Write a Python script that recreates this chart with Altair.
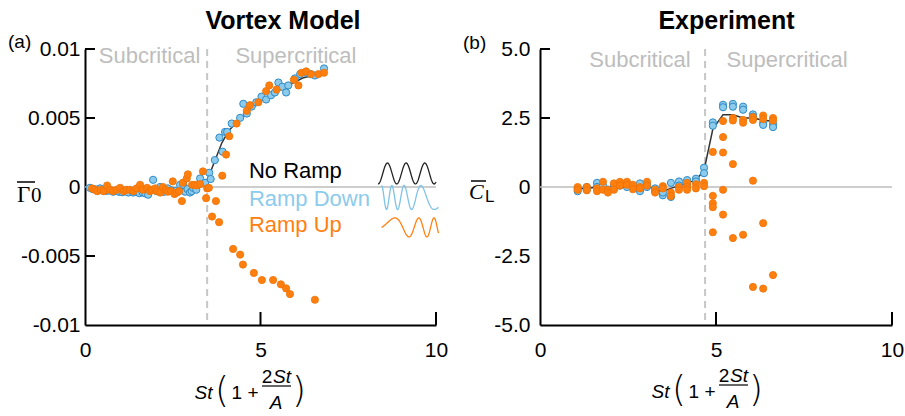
import numpy as np
import pandas as pd
import altair as alt

FONT = "Liberation Sans"
SERIF = "Liberation Serif"
ORANGE = "#ff7f0e"
ORANGE_EDGE = "#ec7207"
BLUE = "#8ccbeb"
BLUE_EDGE = "#2f8ac6"
GREY = "#bdbdbd"
DASH = "#c6c6c6"

W_A, W_B, H = 351, 352, 276

# ---------------- (a) Vortex Model ----------------
vm_noramp_x = [0.15, 0.5, 1.0, 1.5, 2.0, 2.5, 3.0, 3.3, 3.5, 3.7, 3.9, 4.1, 4.4, 4.7, 5.0, 5.3, 5.6, 5.9, 6.2, 6.5, 6.8]
vm_noramp_y = [-0.0002, -0.00025, -0.0003, -0.0003, -0.0003, -0.0002, -0.0001, 0.0001, 0.0006, 0.0019, 0.0032,
               0.0041, 0.0049, 0.0056, 0.0062, 0.0067, 0.0071, 0.0075, 0.0079, 0.0081, 0.0084]

vm_down_x = [0.14, 0.22, 0.30, 0.38, 0.43, 0.52, 0.60, 0.68, 0.80, 0.88, 0.97, 1.06, 1.15, 1.24, 1.37, 1.45,
             1.55, 1.64, 1.72, 1.80, 1.94, 2.04, 2.14, 2.25, 2.36, 2.46, 2.58, 2.71, 2.80, 2.85, 2.92, 2.99,
             3.04, 3.08, 3.17, 3.28, 3.42, 3.54, 3.58, 3.70, 3.83, 3.92, 3.99, 4.05, 4.18, 4.42, 4.51, 4.61,
             4.75, 4.88, 5.03, 5.16, 5.30, 5.41, 5.51, 5.62, 5.73, 5.79, 5.98, 6.13, 6.30, 6.42, 6.55, 6.81]
vm_down_y = [-0.00006, -0.00015, -0.00017, -0.00023, -0.0001, -0.00025, -0.00028, -0.00026, -0.00034, -0.0003,
             -0.00035, -0.00038, -0.00032, -0.0004, -0.0004, -0.00036, -0.00045, -0.00038, -0.00047, -0.00056,
             0.00052, -0.0003, 0.0, -0.00035, -0.0001, -0.00025, -0.0003, 0.00016, 0.00016, -0.00034, -0.00015,
             -0.0004, -0.0003, -0.00006, -0.0002, 0.00062, 0.0003, 0.00103, 0.00058, 0.00195, 0.00358, 0.00256,
             0.00399, 0.00399, 0.0046, 0.00501, 0.00603, 0.00532, 0.00583, 0.00614, 0.00655, 0.00634, 0.00665,
             0.00685, 0.00757, 0.00726, 0.00685, 0.00736, 0.00787, 0.00818, 0.00828, 0.00818, 0.00808, 0.00859]

vm_up_low_x = [0.20, 0.28, 0.35, 0.45, 0.53, 0.63, 0.72, 0.80, 0.90, 1.00, 1.10, 1.18, 1.28, 1.38, 1.47, 1.57,
               1.65, 1.77, 1.85, 1.91, 2.00, 2.05, 2.14, 2.22, 2.30, 2.36, 2.45, 2.50, 2.55, 2.62, 2.68, 2.76,
               2.79, 2.90, 2.93, 3.05, 3.13, 3.19, 3.28, 3.36, 3.45, 3.48, 3.53]
vm_up_low_y = [-0.0001, -0.0002, -0.0003, -0.0002, -0.0003, 0.00011, -0.0002, -0.0003, -0.0002, -0.00006,
               -0.0003, -0.0002, -0.0002, -0.0003, -0.0001, 0.00016, -0.0002, -0.00006, -0.0003, -0.0002,
               -0.0001, -0.0003, -0.0004, 0.0, -0.0002, -0.00034, -0.0003, 0.00041, -0.00051, -0.0004,
               -0.0003, -0.00102, 0.00031, 0.00062, 0.00092, 0.00016, 0.00016, 0.00011, 0.00021, 0.00113,
               -0.00081, -0.0001, -0.00006]
vm_up_pos_x = [3.91, 4.02, 4.11, 4.32, 4.61, 4.70, 4.94, 5.16, 5.25, 5.46, 5.95, 6.08, 6.17, 6.30, 6.44, 6.65, 6.81]
vm_up_pos_y = [0.00082, 0.00235, 0.00368, 0.0046, 0.00552, 0.00593, 0.00614, 0.00695, 0.00736, 0.00706,
               0.00777, 0.00736, 0.00828, 0.00838, 0.00818, 0.00818, 0.00828]
vm_up_neg_x = [3.73, 3.62, 3.82, 4.22, 4.42, 4.50, 4.81, 5.04, 5.36, 5.58, 5.73, 5.84, 6.55]
vm_up_neg_y = [-0.00102, -0.00214, -0.00255, -0.00449, -0.0049, -0.00562, -0.00623, -0.00674, -0.00674,
               -0.00705, -0.00735, -0.00776, -0.00817]

vm_critical = 3.48

# ---------------- (b) Experiment ----------------
ex_x = [1.07, 1.33, 1.62, 1.79, 1.93, 2.10, 2.27, 2.47, 2.64, 2.84, 3.04, 3.27, 3.49, 3.72, 3.95, 4.18, 4.43,
        4.66, 4.91, 5.20, 5.48, 5.77, 6.05, 6.34, 6.62]
ex_noramp_y = [-0.05, -0.05, 0.0, 0.0, -0.05, 0.0, 0.05, 0.05, 0.0, 0.0, 0.05, -0.1, -0.15, -0.05, 0.05, 0.15,
               0.25, 0.6, 2.1, 2.62, 2.62, 2.5, 2.5, 2.42, 2.38]
ex_down_y = [[-0.15, -0.05], [-0.1, 0.0], [0.15, 0.0], [-0.05, 0.05], [-0.1], [0.05, -0.05], [0.1, 0.05],
             [0.1, 0.0], [0.05, 0.0], [0.13, -0.15], [0.1, 0.0], [-0.15, -0.05], [-0.3, -0.2], [0.15, -0.36],
             [0.2, 0.05], [0.25, 0.1], [0.3, 0.2], [0.7, 0.5], [2.34, 2.22], [2.98, 2.89], [3.01, 2.91],
             [2.91, 2.8], [2.63, 2.55], [2.33, 2.25], [2.29, 2.17]]
ex_up_y = [[0.0, -0.1], [0.0, -0.12], [-0.05, -0.15], [0.19, -0.1], [-0.1, -0.2], [0.13, -0.1], [0.19, 0.05],
           [0.19, 0.08], [0.08, -0.08], [0.0, -0.05], [0.19, 0.05], [-0.1, -0.2], [0.03, -0.05], [-0.2, -0.33],
           [0.0, -0.1], [0.15, 0.0, -0.1], [0.1, -0.05], [0.15, 0.03], [1.27, -0.32, -0.59, -0.73, -1.64],
           [2.39, 1.81, 1.25, -0.1, -1.0], [2.5, 2.41, 0.83, -1.85], [2.43, 2.33, -1.73],
           [2.53, 2.43, 0.23, -3.62], [2.59, 2.46, -1.31, -3.68], [2.5, 2.41, -3.19]]
ex_critical = 4.69

DUMMY = pd.DataFrame({"d": [0]})


def flat(xs, groups):
    rx, ry = [], []
    for x, g in zip(xs, groups):
        for v in g:
            rx.append(x)
            ry.append(v)
    return pd.DataFrame({"x": rx, "y": ry})


def ptext(s, x, y, size, color="black", align="center", baseline="middle", font=FONT, **kw):
    return alt.Chart(DUMMY).mark_text(text=s, fontSize=size, color=color, align=align, baseline=baseline,
                                      font=font, **kw).encode(x=alt.value(x), y=alt.value(y))


def prule(x, x2, y, y2, color="black", width=1.5, **kw):
    return alt.Chart(DUMMY).mark_rule(color=color, strokeWidth=width, **kw).encode(
        x=alt.value(x), x2=alt.value(x2), y=alt.value(y), y2=alt.value(y2))


def xtitle(dx, dy):
    return [
        ptext("St", 118.5 + dx, 344 + dy, 19, fontStyle="italic"),
        ptext("(", 137 + dx, 342 + dy, 36, font="DejaVu Sans", fontWeight=200),
        ptext("1 +", 160 + dx, 344 + dy, 19),
        ptext("2", 182 + dx, 328 + dy, 19),
        ptext("St", 197 + dx, 328 + dy, 19, fontStyle="italic"),
        prule(177 + dx, 206 + dx, 337 + dy, 337 + dy, width=1.2),
        ptext("A", 191 + dx, 354 + dy, 19, fontStyle="italic"),
        ptext(")", 214 + dx, 342 + dy, 36, font="DejaVu Sans", fontWeight=200),
    ]


XAX = alt.Axis(values=[0, 5, 10], labelExpr="'' + datum.value", ticks=False, grid=False,
               domainColor="black", domainWidth=2, labelFont=FONT, labelFontSize=21,
               labelColor="black", labelPadding=14, labelFlush=False, title=None)


def panel(xscale, yscale, yaxis, down_df, up_dfs, line_df, crit, sub_pos, sup_pos, yticks):
    X = lambda f: alt.X(f, scale=xscale, axis=XAX)
    Y = lambda f: alt.Y(f, scale=yscale, axis=yaxis)
    zero = alt.Chart(pd.DataFrame({"y": [0]})).mark_rule(color=GREY, strokeWidth=1.5).encode(y=Y("y:Q"))
    crit_l = alt.Chart(pd.DataFrame({"x": [crit]})).mark_rule(
        color=DASH, strokeWidth=2, strokeDash=[7, 5]).encode(x=X("x:Q"))
    line = alt.Chart(line_df).mark_line(color="#333333", strokeWidth=1.5).encode(x=X("x:Q"), y=Y("y:Q"))
    blue = alt.Chart(down_df).mark_point(shape="circle", filled=True, fill=BLUE, stroke=BLUE_EDGE,
                                         strokeWidth=1, size=52, opacity=1).encode(x=X("x:Q"), y=Y("y:Q"))
    oranges = [alt.Chart(d).mark_point(shape="circle", filled=True, fill=ORANGE, stroke=ORANGE_EDGE,
                                       strokeWidth=0.8, size=52, opacity=1).encode(x=X("x:Q"), y=Y("y:Q"))
               for d in up_dfs]
    regions = alt.Chart(pd.DataFrame({"x": [sub_pos[0], sup_pos[0]], "y": [sub_pos[1], sup_pos[1]],
                                      "t": ["Subcritical", "Supercritical"]})).mark_text(
        font=FONT, fontSize=22, color=GREY, align="center", baseline="middle").encode(
        x=X("x:Q"), y=Y("y:Q"), text="t:N")
    yt = alt.Chart(pd.DataFrame({"y": yticks})).mark_rule(color="black", strokeWidth=2).encode(
        y=Y("y:Q"), x=alt.value(0), x2=alt.value(10))
    xt = alt.Chart(pd.DataFrame({"x": [5, 10]})).mark_rule(color="black", strokeWidth=2).encode(
        x=X("x:Q"), y=alt.value(H), y2=alt.value(H - 13))
    return [zero, crit_l, line, blue] + oranges + [regions, yt, xt], X, Y


# ---------- panel A ----------
xsA = alt.Scale(domain=[0, 10], nice=False, zero=False)
ysA = alt.Scale(domain=[-0.01, 0.01], nice=False, zero=False)
yaxA = alt.Axis(values=[-0.01, -0.005, 0, 0.005, 0.01], labelExpr="'' + datum.value", ticks=False,
                grid=False, domainColor="black", domainWidth=2, labelFont=FONT, labelFontSize=21,
                labelColor="black", labelPadding=5, labelFlush=False, labelOverlap=False, title=None)

layersA, XA, YA = panel(xsA, ysA, yaxA,
                        pd.DataFrame({"x": vm_down_x, "y": vm_down_y}),
                        [pd.DataFrame({"x": vm_up_low_x, "y": vm_up_low_y}),
                         pd.DataFrame({"x": vm_up_pos_x, "y": vm_up_pos_y}),
                         pd.DataFrame({"x": vm_up_neg_x, "y": vm_up_neg_y})],
                        pd.DataFrame({"x": vm_noramp_x, "y": vm_noramp_y}),
                        vm_critical, (1.84, 0.0095), (6.01, 0.0095), [0.01, 0.005, -0.005])

# legend (labels + wave glyphs)
leg = pd.DataFrame({"x": [4.67, 4.67, 4.67], "y": [0.00116, -0.00087, -0.00275],
                    "t": ["No Ramp", "Ramp Down", "Ramp Up"], "c": ["black", "#8ccbeb", "#ff8010"]})
leg_text = alt.Chart(leg).mark_text(font=FONT, fontSize=22, align="left", baseline="middle").encode(
    x=XA("x:Q"), y=YA("y:Q"), text="t:N", color=alt.Color("c:N", scale=None))

t = np.linspace(0, 1, 160)
glyph_black = pd.DataFrame({"x": 8.35 + 1.65 * t, "y": 0.00098 - 0.00076 * np.cos(2 * np.pi * 3.1 * t)})
glyph_blue = pd.DataFrame({"x": 8.45 + 1.62 * t, "y": -0.00076 + 0.00087 * np.cos(2 * np.pi * (6 * t - 2.4 * t ** 2))})
glyph_orange = pd.DataFrame({"x": 8.45 + 1.62 * t, "y": -0.00293 + 0.00069 * np.sin(2 * np.pi * (0.6 * t + 2.0 * t ** 2))})
glyphs = [alt.Chart(d).mark_line(color=c, strokeWidth=1.3, clip=False).encode(x=XA("x:Q"), y=YA("y:Q"))
          for d, c in [(glyph_black, "#222222"), (glyph_blue, "#7fc3e8"), (glyph_orange, "#ff8010")]]

decoA = [
    ptext("Vortex Model", 198, -20, 25, fontWeight="bold", baseline="alphabetic"),
    ptext("(a)", -77, -7, 19, align="left"),
    ptext("\u0393", -68, 153, 23, font=SERIF, align="left", baseline="alphabetic"),
    ptext("0", -54, 153, 21, font=SERIF, align="left", baseline="alphabetic"),
    prule(-68, -50, 133, 133, width=1.5),
    # invisible anchor fixing the plot origin at (85, 49)
    alt.Chart(DUMMY).mark_rule(stroke="white", strokeOpacity=0, strokeWidth=0.5).encode(
        x=alt.value(-85), x2=alt.value(-85), y=alt.value(-49), y2=alt.value(-48)),
] + xtitle(0, 0)

left = alt.layer(*(layersA + [leg_text] + glyphs + decoA)).properties(width=W_A, height=H)

# ---------- panel B ----------
xsB = alt.Scale(domain=[0, 10], nice=False, zero=False)
ysB = alt.Scale(domain=[-5, 5], nice=False, zero=False)
yaxB = alt.Axis(values=[-5, -2.5, 0, 2.5, 5],
                labelExpr="datum.value == 0 ? '0' : (datum.value < 0 ? '-' : '') + format(abs(datum.value), '.1f')",
                ticks=False, grid=False, domainColor="black", domainWidth=2, labelFont=FONT, labelFontSize=21,
                labelColor="black", labelPadding=10, labelFlush=False, labelOverlap=False, title=None)

layersB, XB, YB = panel(xsB, ysB, yaxB,
                        flat(ex_x, ex_down_y),
                        [flat(ex_x, ex_up_y)],
                        pd.DataFrame({"x": ex_x, "y": ex_noramp_y}),
                        ex_critical, (2.84, 4.6), (7.02, 4.6), [5, 2.5])

decoB = [
    ptext("Experiment", 186.5, -20, 25, fontWeight="bold", baseline="alphabetic"),
    ptext("(b)", -77, -6, 19, align="left"),
    ptext("C", -71, 150, 22, font=SERIF, fontStyle="italic", align="left", baseline="alphabetic"),
    ptext("L", -55, 153, 17, align="left", baseline="alphabetic"),
    prule(-69, -54, 132, 132, width=1.5),
] + xtitle(2, -1)

right = alt.layer(*(layersB + decoB)).properties(width=W_B, height=H)

chart = alt.hconcat(left, right, spacing=104, bounds="flush").properties(
    padding={"left": 0, "top": 0, "right": 0, "bottom": 0}
).configure_view(stroke=None)

chart.save("out.html", embed_options={"renderer": "svg", "actions": False})
